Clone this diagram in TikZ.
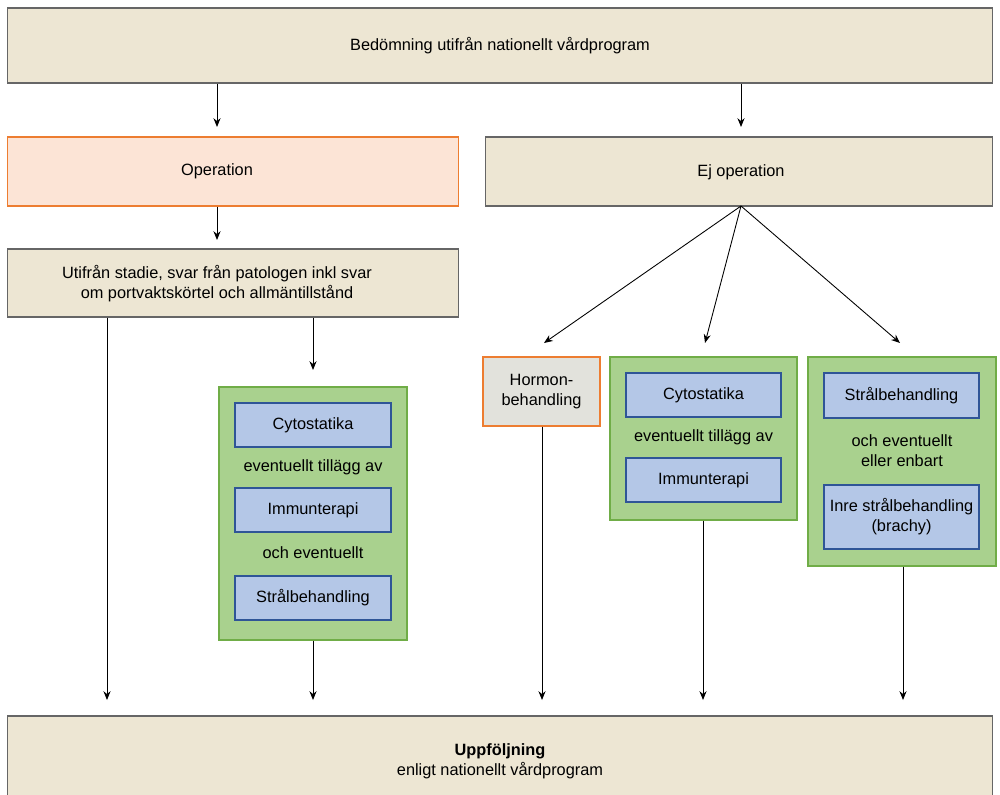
\documentclass[tikz,border=0pt]{standalone}
\usepackage{fontspec}
\setmainfont{Liberation Sans}
\usetikzlibrary{arrows.meta}
\definecolor{beige}{HTML}{EDE6D3}
\definecolor{peach}{HTML}{FCE4D6}
\definecolor{orangeb}{HTML}{ED7D31}
\definecolor{greenf}{HTML}{A9D18E}
\definecolor{greenb}{HTML}{70AD47}
\definecolor{bluef}{HTML}{B4C7E7}
\definecolor{blueb}{HTML}{2F5597}
\definecolor{grayf}{HTML}{E2E2DC}
\begin{document}
\begin{tikzpicture}[x=0.02cm,y=-0.02cm,font=\fontsize{9.3}{11.5}\selectfont,
 every node/.style={align=center},
 box/.style={draw=#1,line width=0.6pt,align=center,inner sep=2pt},
 beigebox/.style={box=gray!80!black,fill=beige},
 gbox/.style={box=greenb,fill=greenf,line width=0.8pt},
 bbox/.style={box=blueb,fill=bluef,line width=0.8pt,minimum width=3.12cm},
 arr/.style={-{Stealth[length=5pt,width=4pt]},line width=0.5pt}]
\clip (0,0) rectangle (1000,794);
\node[beigebox,minimum width=19.72cm,minimum height=1.5cm] (top) at (500,45.5) {};
\node (topt) at (500,46) {Bedömning utifrån nationellt vårdprogram};
\node[box=orangeb,fill=peach,minimum width=9.04cm,minimum height=1.38cm] (op) at (233,171.5) {};
\node (opt) at (217,171) {Operation};
\node[beigebox,minimum width=10.16cm,minimum height=1.38cm] (ej) at (739,171.5) {};
\node (ejt) at (741,172) {Ej operation};
\node[beigebox,minimum width=9.04cm,minimum height=1.36cm] (ut) at (233,283) {};
\node (utt) at (217,284) {Utifrån stadie, svar från patologen inkl svar\\om portvaktskörtel och allmäntillstånd};
\node[gbox,minimum width=3.76cm,minimum height=5.06cm] (gl) at (313,513.5) {};
\node[bbox,minimum height=0.88cm] (l1) at (313,425) {Cytostatika};
\node (lt1) at (313,467) {eventuellt tillägg av};
\node[bbox,minimum height=0.88cm] (l2) at (313,510) {Immunterapi};
\node (lt2) at (313,553) {och eventuellt};
\node[bbox,minimum height=0.88cm] (l3) at (313,598) {Strålbehandling};
\node[box=orangeb,fill=grayf,minimum width=2.34cm,minimum height=1.38cm] (ho) at (541.5,391.5) {Hormon-\\behandling};
\node[gbox,minimum width=3.74cm,minimum height=3.26cm] (gm) at (703.5,438.5) {};
\node[bbox,minimum width=3.1cm,minimum height=0.88cm] (m1) at (703.5,395) {Cytostatika};
\node (mt) at (703.5,437) {eventuellt tillägg av};
\node[bbox,minimum width=3.1cm,minimum height=0.88cm] (m2) at (703.5,480) {Immunterapi};
\node[gbox,minimum width=3.76cm,minimum height=4.18cm] (gr) at (902,461.5) {};
\node[bbox,minimum width=3.1cm,minimum height=0.9cm] (r1) at (901.5,395.5) {Strålbehandling};
\node (rt) at (902,451) {och eventuellt\\eller enbart};
\node[bbox,minimum width=3.1cm,minimum height=1.28cm] (r2) at (901.5,517) {Inre strålbehandling\\(brachy)};
\node[beigebox,minimum width=19.72cm,minimum height=2.08cm] (bo) at (500,768) {};
\node (bt) at (500,761) {\textbf{Uppföljning}\\enligt nationellt vårdprogram};
\coordinate (a1) at (217,127); \coordinate (a2) at (741,127);
\coordinate (a3) at (217,240);
\coordinate (e0) at (741,206);
\coordinate (e1) at (544,343); \coordinate (e2) at (705,343); \coordinate (e3) at (900,343);
\coordinate (u1) at (313,370);
\coordinate (b1) at (107,700); \coordinate (b2) at (313,700); \coordinate (b3) at (542,700);
\coordinate (b4) at (703,700); \coordinate (b5) at (903,700);
\draw[arr] (top.south -| a1) -- (a1);
\draw[arr] (top.south -| a2) -- (a2);
\draw[arr] (op.south -| a3) -- (a3);
\draw[arr] (e0) -- (e1);
\draw[arr] (e0) -- (e2);
\draw[arr] (e0) -- (e3);
\draw[arr] (ut.south -| b1) -- (b1);
\draw[arr] (ut.south -| u1) -- (u1);
\draw[arr] (gl.south) -- (b2);
\draw[arr] (ho.south -| b3) -- (b3);
\draw[arr] (gm.south -| b4) -- (b4);
\draw[arr] (gr.south -| b5) -- (b5);
\end{tikzpicture}
\end{document}
